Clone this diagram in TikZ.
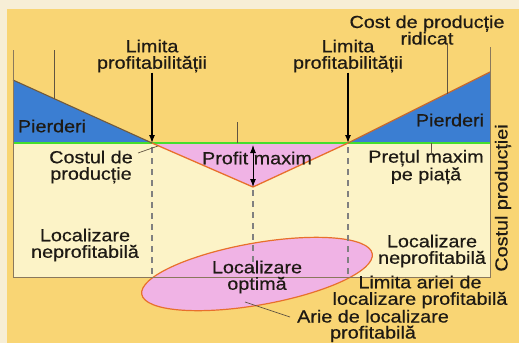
\documentclass[tikz,border=0pt]{standalone}
\usepackage{fontspec}
\setmainfont{Liberation Sans}[FakeStretch=1.13, FakeBold=0.5]
\usetikzlibrary{arrows.meta, shapes.geometric}
\usepackage{xcolor}
\definecolor{bgyellow}{HTML}{F9D574}
\definecolor{bgcream}{HTML}{F7EED6}
\definecolor{panelcream}{HTML}{FCF3C7}
\definecolor{lossblue}{HTML}{3B7ED2}
\definecolor{profitpink}{HTML}{F0B3E5}
\definecolor{costorange}{HTML}{E8702C}
\definecolor{costbrown}{HTML}{735A3A}
\definecolor{pricegreen}{HTML}{46DE2E}
\definecolor{axisbrown}{HTML}{8A785C}
\definecolor{labeltext}{HTML}{1E1A14}

\begin{document}
\begin{tikzpicture}[x=1pt, y=-1pt,
      lbl/.style={align=center, text=labeltext, inner sep=0pt, font=\fontsize{17.5}{16.5}\selectfont},
      arrow/.style={-{Latex[length=8pt, width=6pt]}, line width=1.3pt, black},
      leader/.style={line width=0.7pt, axisbrown!70!black},
      limitline/.style={line width=1.1pt, gray, dash pattern=on 6pt off 5pt},
      area/.style={ellipse, draw=costorange, line width=1.2pt, fill=profitpink, minimum width=234pt, minimum height=62pt, inner sep=0pt},
    ]
    \useasboundingbox (0,0) rectangle (519,343);
    % background
    \fill[bgcream] (0,0) rectangle (519,343);
    \fill[bgyellow] (7,9) rectangle (519,343);
    \fill[panelcream] (13,143) rectangle (490,277);

    % cost curve
    \coordinate (topL) at (13,80);
    \coordinate (breakL) at (152,143);
    \coordinate (vbot) at (253,187);
    \coordinate (breakR) at (348,143);
    \coordinate (topR) at (490,72);
    \coordinate (baseL) at (13,143);
    \coordinate (baseR) at (490,143);
    \fill[lossblue] (topL) -- (breakL) -- (baseL) -- cycle;
    \fill[lossblue] (breakR) -- (topR) -- (baseR) -- cycle;
    \fill[profitpink] (breakL) -- (vbot) -- (breakR) -- cycle;
    \draw[pricegreen, line width=2.2pt] (baseL) -- (baseR);
    \draw[costbrown, line width=1.1pt] (topL) -- (breakL);
    \draw[costorange, line width=1.3pt] (breakL) -- (vbot) -- (breakR);
    \draw[costorange!70!costbrown, line width=1.3pt] (breakR) -- (topR);

    % optimal area
    \node[area, rotate=10] (optarea) at (257,274) {};
    \foreach \xx/\yy in {152/147, 253/190, 348/147}
      \draw[limitline] (\xx,\yy) -- (\xx,277);

    % axes
    \draw[axisbrown, line width=0.9pt] (13,50) -- (13,277) -- (490,277) -- (490,47);

    % labels
    \node[lbl] (limL) at (152,56) {Limita\\profitabilității};
    \node[lbl] (limR) at (348,56) {Limita\\profitabilității};
    \node[lbl] (cost) at (427,30) {Cost de producție\\ridicat};
    \node[lbl] (pierL) at (52,126) {Pierderi};
    \node[lbl] (pierR) at (450,120) {Pierderi};
    \node[lbl] (costprod) at (91,167) {Costul de\\producție};
    \node[lbl] (profit) at (257,158) {Profit maxim};
    \node[lbl] (pret) at (426,167) {Prețul maxim\\pe piață};
    \node[lbl] (locL) at (85,245) {Localizare\\neprofitabilă};
    \node[lbl] (locR) at (432,251) {Localizare\\neprofitabilă};
    \node[lbl] (optim) at (257,277) {Localizare\\optimă};
    \node[lbl] (limarie) at (420,292) {Limita ariei de\\localizare profitabilă};
    \node[lbl, font=\fontsize{17.5}{16}\selectfont] (arie) at (373,326) {Arie de localizare\\profitabilă};
    \node[lbl, rotate=90] (axislbl) at (503,198) {Costul producției};

    % arrows
    \coordinate (pmtop) at (253,145);
    \draw[arrow] (limL) -- (breakL);
    \draw[arrow] (limR) -- (breakR);
    \draw[arrow, {Latex[length=8pt, width=6pt]}-{Latex[length=8pt, width=6pt]}, line width=1pt] (pmtop) -- (vbot);

    % leaders
    \coordinate (leadA) at (54,50);
    \coordinate (leadAend) at (54,98.5);
    \coordinate (leadB) at (237,122);
    \coordinate (leadBend) at (237,143);
    \coordinate (leadC) at (431,143);
    \coordinate (leadCend) at (431,153);
    \coordinate (leadD) at (447,45);
    \coordinate (leadDend) at (447,93.5);
    \coordinate (leadE) at (158,146);
    \coordinate (leadEend) at (138,153);
    \coordinate (leadF) at (245,302);
    \coordinate (leadFend) at (290,317);
    \draw[leader] (leadA) -- (leadAend);
    \draw[leader] (leadB) -- (leadBend);
    \draw[leader] (leadC) -- (leadCend);
    \draw[leader] (leadD) -- (leadDend);
    \draw[leader] (leadE) -- (leadEend);
    \draw[leader] (leadF) -- (leadFend);
  \end{tikzpicture}
\end{document}
